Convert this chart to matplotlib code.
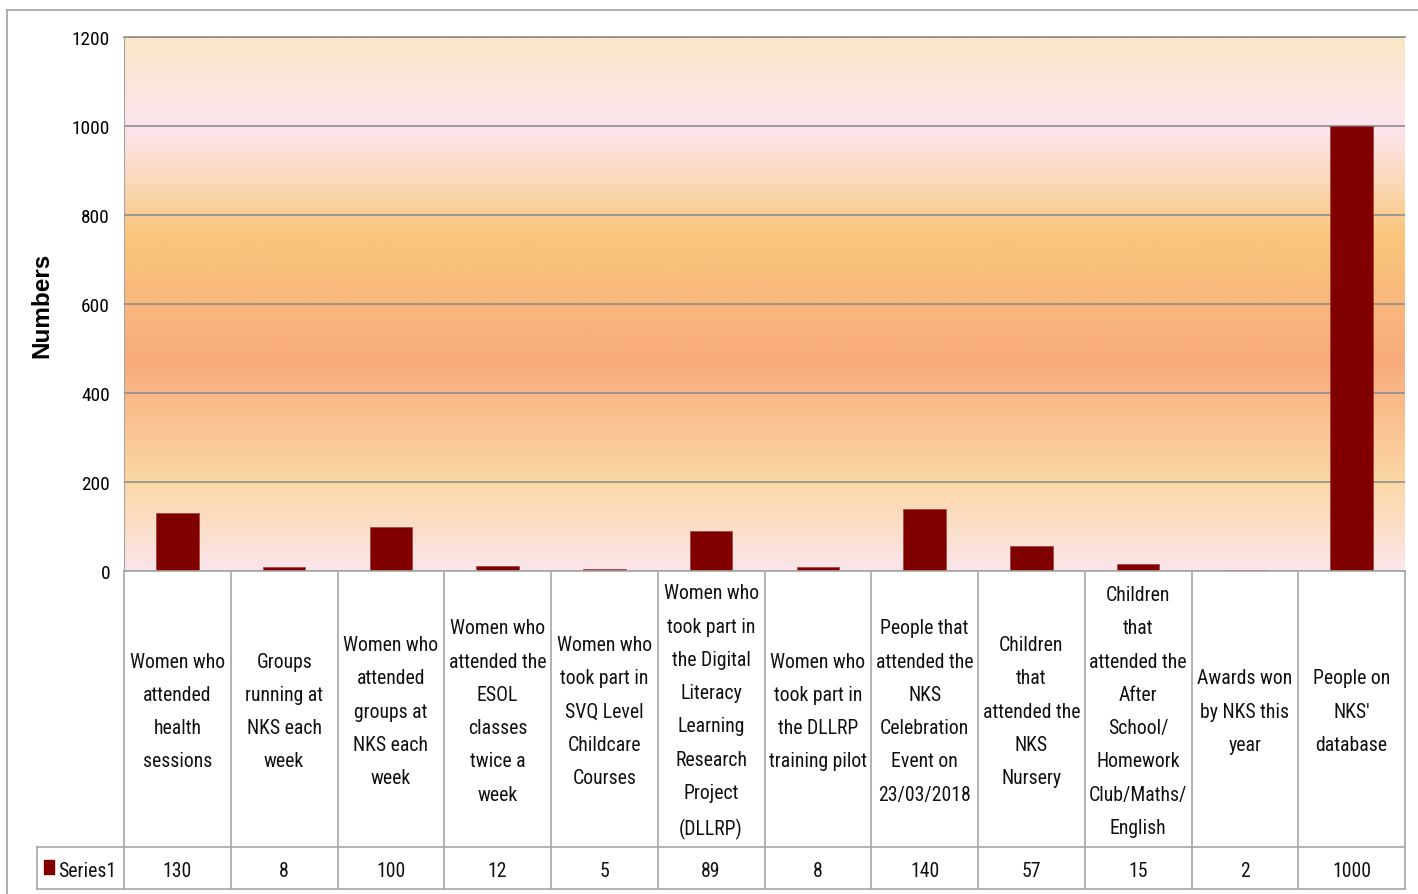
import matplotlib
matplotlib.use("Agg")
import matplotlib.pyplot as plt
import numpy as np
from matplotlib import font_manager
from matplotlib.textpath import TextToPath
from matplotlib.colors import LinearSegmentedColormap
from matplotlib.lines import Line2D
from matplotlib.patches import Rectangle

categories = [
    "Women who\nattended\nhealth\nsessions",
    "Groups\nrunning at\nNKS each\nweek",
    "Women who\nattended\ngroups at\nNKS each\nweek",
    "Women who\nattended the\nESOL\nclasses\ntwice a\nweek",
    "Women who\ntook part in\nSVQ Level\nChildcare\nCourses",
    "Women who\ntook part in\nthe Digital\nLiteracy\nLearning\nResearch\nProject\n(DLLRP)",
    "Women who\ntook part in\nthe DLLRP\ntraining pilot",
    "People that\nattended the\nNKS\nCelebration\nEvent on\n23/03/2018",
    "Children\nthat\nattended the\nNKS\nNursery",
    "Children\nthat\nattended the\nAfter\nSchool/\nHomework\nClub/Maths/\nEnglish",
    "Awards won\nby NKS this\nyear",
    "People on\nNKS'\ndatabase",
]
values = [130, 8, 100, 12, 5, 89, 8, 140, 57, 15, 2, 1000]
series_name = "Series1"
yticks = [0, 200, 400, 600, 800, 1000, 1200]

# background gradient stops (value, colour)
grad_stops = [(0, "#FCE5EA"), (200, "#FBD7A4"), (470, "#F9AB7C"), (760, "#F9C67C"),
              (880, "#FBD9BA"), (1000, "#FCE4EE"), (1200, "#FAE8C8")]

# the chart uses Arial Narrow: take the narrowest plain sans we have
t2p = TextToPath()
allowed = {"liberation sans narrow", "liberation sans", "roboto", "roboto condensed",
           "open sans", "open sans condensed", "noto sans", "dejavu sans",
           "arimo", "lato", "inter"}


def width_em(fp, s):
    p = fp.copy()
    p.set_size(100)
    w, h, d = t2p.get_text_width_height_descent(s, p, ismath=False)
    return w / 100.0


best, best_err = None, 1e9
for f in font_manager.fontManager.ttflist:
    if f.name.lower() not in allowed:
        continue
    if f.style != "normal" or f.weight not in (400, "normal", "regular"):
        continue
    fp = font_manager.FontProperties(fname=f.fname)
    try:
        r = width_em(fp, "attended the")
    except Exception:
        continue
    err = abs(r - 4.5)
    if err < best_err:
        best, best_err = fp, err
if best is None:
    best = font_manager.FontProperties(family="Liberation Sans")

DPI = 100
cat_size = 98 / width_em(best, "attended the") * 72 / DPI
cat_fp = best.copy(); cat_fp.set_size(cat_size)
tick_fp = best.copy(); tick_fp.set_size(38 / width_em(best, "1200") * 72 / DPI)
p = best.copy(); p.set_size(cat_size)
lp_h = t2p.get_text_width_height_descent("lp", p, ismath=False)[1] * DPI / 72
lsp = 34 / lp_h * 1.08

W, H = 1418, 895
grid_c = "#8E8E8E"
cell_c = "#A6A6A6"
bar_c = "#800000"

fig = plt.figure(figsize=(W / DPI, H / DPI), dpi=DPI)

x0, x1, ytop, ybot = 124, 1405, 38, 572
ax = fig.add_axes([x0 / W, 1 - ybot / H, (x1 - x0) / W, (ybot - ytop) / H])
n = len(values)
ax.set_xlim(-0.5, n - 0.5)
ax.set_ylim(0, 1200)

cmap = LinearSegmentedColormap.from_list(
    "bg", [(v / 1200, c) for v, c in grad_stops])
grad = np.linspace(0, 1, 400).reshape(-1, 1)
ax.imshow(grad, cmap=cmap, origin="lower", aspect="auto",
          extent=[-0.5, n - 0.5, 0, 1200], zorder=0)

ax.bar(range(n), values, width=0.4, color=bar_c, zorder=3,
       edgecolor="#A04040", linewidth=0.5)

ax.set_yticks(yticks)
ax.yaxis.grid(True, color=grid_c, linewidth=1.2, zorder=1)
ax.set_axisbelow(False)
ax.tick_params(axis="y", length=0, pad=10)
for lab in ax.get_yticklabels():
    lab.set_fontproperties(tick_fp)
ax.set_xticks([])
for s in ["right", "bottom"]:
    ax.spines[s].set_visible(False)
ax.spines["top"].set_color(grid_c)
ax.spines["left"].set_color(cell_c)
ax.spines["top"].set_linewidth(1.2)
ax.set_ylabel("Numbers", fontsize=17.5, fontweight="bold", family="Liberation Sans")
ax.yaxis.set_label_coords((53 - x0) / (x1 - x0), 0.5)

# data table under the plot, in pixel coordinates of the figure
ov = fig.add_axes([0, 0, 1, 1], zorder=5)
ov.set_xlim(0, W)
ov.set_ylim(H, 0)
ov.axis("off")
ov.patch.set_alpha(0)

col_w = (x1 - x0) / n
row_split, row_end = 848, 890
edges = [x0 + i * col_w for i in range(n + 1)]
for e in edges:
    ov.add_line(Line2D([e, e], [ybot, row_end], color=cell_c, lw=1.2))
ov.add_line(Line2D([x0, x1], [ybot, ybot], color=cell_c, lw=1.2))
ov.add_line(Line2D([37, x1], [row_split, row_split], color=cell_c, lw=1.2))
ov.add_line(Line2D([37, x1], [row_end, row_end], color=cell_c, lw=1.2))
ov.add_line(Line2D([37, 37], [row_split, row_end], color=cell_c, lw=1.2))

for i, (cat, v) in enumerate(zip(categories, values)):
    cx = x0 + (i + 0.5) * col_w
    ov.text(cx, (ybot + row_split) / 2 + 2, cat, ha="center", va="center",
            fontproperties=cat_fp, linespacing=lsp, color="#111111")
    ov.text(cx, (row_split + row_end) / 2 + 3, str(v), ha="center", va="center",
            fontproperties=cat_fp, color="#111111")

ov.add_patch(Rectangle((44, 861), 10, 14, color=bar_c))
ov.text(58, (row_split + row_end) / 2 + 3, series_name, ha="left", va="center",
        fontproperties=cat_fp, color="#111111")

# outer chart border
ov.add_line(Line2D([7, W], [11, 11], color="#A0A0A0", lw=1.2))
ov.add_line(Line2D([7, 7], [11, H], color="#A0A0A0", lw=1.2))

fig.savefig("out.png", dpi=DPI)
